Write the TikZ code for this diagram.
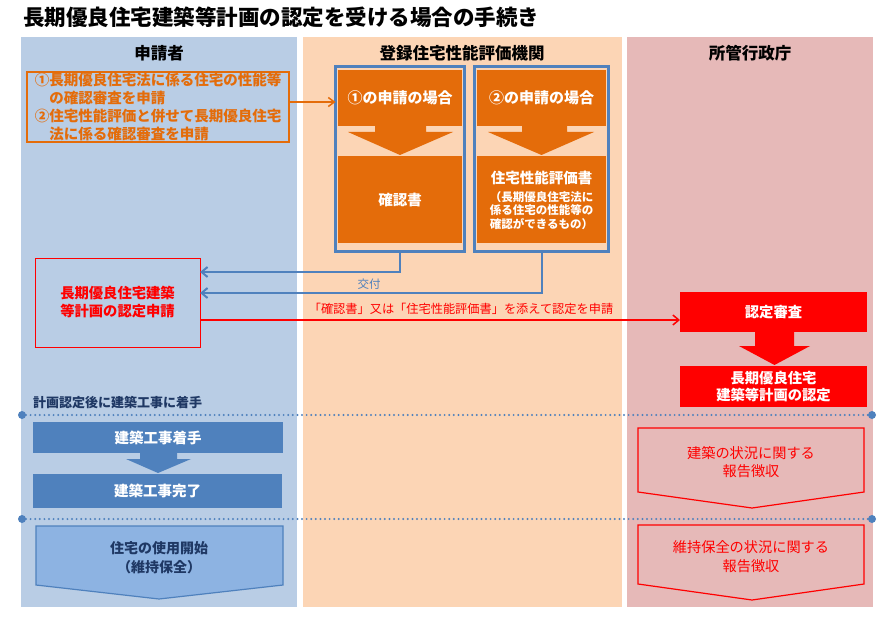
\documentclass[tikz,border=0pt]{standalone}
\usepackage{fontspec}
\setmainfont{Noto Sans CJK JP}
\usetikzlibrary{arrows.meta}
\definecolor{colL}{HTML}{B9CDE5}
\definecolor{colM}{HTML}{FCD5B5}
\definecolor{colR}{HTML}{E6B9B8}
\definecolor{cOr}{HTML}{E46C0A}
\definecolor{cBl}{HTML}{4F81BD}
\definecolor{cLB}{HTML}{8DB3E2}
\definecolor{cNavy}{HTML}{1F3864}
\newcommand{\fsz}[2]{\fontsize{#1}{#2}\selectfont}
\begin{document}
\begin{tikzpicture}[x=1pt,y=-1pt,
  every node/.style={inner sep=0pt,outer sep=0pt},
  hdr/.style={font=\fsz{16.5}{20}\bfseries},
  wtxt/.style={text=white,font=\fsz{14.5}{17}\bfseries,align=center},
  obox/.style={fill=cOr},
  bframe/.style={draw=cBl,line width=3pt},
  barrow/.style={draw=cBl,line width=2pt,-{Straight Barb[length=6pt,width=10pt]}},
  rarrow/.style={draw=red,line width=1.5pt,-{Straight Barb[length=6pt,width=10pt]}},
  oarrow/.style={draw=cOr,line width=1.5pt,-{Straight Barb[length=6pt,width=9pt]}},
  endpt/.style={circle,fill=cBl,minimum size=8pt},
  dotline/.style={draw=cBl,line width=2.2pt,line cap=round,dash pattern=on 0pt off 4.6pt},
  pent/.style={line width=1.2pt}
]
\useasboundingbox (0,0) rectangle (893,620);
% lanes
\fill[colL] (21,37) rectangle (297,607);
\fill[colM] (303,37) rectangle (622,607);
\fill[colR] (627,37) rectangle (873,607);
% title and headers
\node[anchor=west,font=\fsz{21.5}{24}\bfseries] (title) at (23,17) {長期優良住宅建築等計画の認定を受ける場合の手続き};
\node[hdr] (h1) at (159,53) {申請者};
\node[hdr] (h2) at (462,53) {登録住宅性能評価機関};
\node[hdr] (h3) at (750,53) {所管行政庁};
% request box
\node[draw=cOr,line width=1.2pt,minimum width=262,minimum height=70,text=cOr,
  font=\fsz{14.5}{18}\bfseries,align=left] (req) at (158,107)
  {①長期優良住宅法に係る住宅の性能等\\\hspace*{1em}の確認審査を申請\\②住宅性能評価と併せて長期優良住宅\\\hspace*{1em}法に係る確認審査を申請};
% case 1
\node[obox,minimum width=124,minimum height=56,wtxt,font=\fsz{15}{17}\bfseries] (c1top) at (400,98) {①の申請の場合};
\fill[cOr] (375,125) -- (426,125) -- (426,132) -- (453,132) -- (400,155) -- (348,132) -- (375,132) -- cycle;
\node[obox,minimum width=124,minimum height=87,wtxt] (c1bot) at (400,199.5) {確認書};
\node[bframe,minimum width=129,minimum height=185] (f1) at (400,159) {};
% case 2
\node[obox,minimum width=129,minimum height=56,wtxt,font=\fsz{15}{17}\bfseries] (c2top) at (541.5,98) {②の申請の場合};
\fill[cOr] (522,125) -- (567,125) -- (567,132) -- (594,132) -- (541.5,155) -- (488,132) -- (522,132) -- cycle;
\node[obox,minimum width=129,minimum height=87] (c2bot) at (541.5,199.5) {};
\node[wtxt] (c2t1) at (541.5,178) {住宅性能評価書};
\node[wtxt,font=\fsz{11.5}{13.5}\bfseries] (c2t2) at (541.5,210.5) {（長期優良住宅法に\\係る住宅の性能等の\\確認ができるもの）};
\node[bframe,minimum width=134,minimum height=185] (f2) at (541.5,159) {};
% orange connector
\coordinate (os) at ([yshift=5pt]req.east);
\draw[oarrow] (os) -- (os -| f1.west);
% application box
\node[draw=red,line width=1pt,minimum width=165,minimum height=89,text=red,
  font=\fsz{14.3}{18}\bfseries,align=center] (apply) at (117.5,302.5) {長期優良住宅建築\\等計画の認定申請};
\draw[barrow] (f1.south) |- ([yshift=30.5pt]apply.east);
\draw[barrow] (f2.south) |- ([yshift=9.5pt]apply.east);
\node[text=cBl,font=\fsz{11.5}{14}] (kofu) at (369,284) {交付};
% red flow
\node[fill=red,minimum width=187,minimum height=40,text=white,font=\fsz{14.3}{17}\bfseries] (shinsa) at (773.5,312) {認定審査};
\coordinate (rs) at ([yshift=-17.5pt]apply.east);
\draw[rarrow] (rs) -- (rs -| shinsa.west);
\node[text=red,font=\fsz{12.2}{14}] (lbl) at (461,309) {「確認書」又は「住宅性能評価書」を添えて認定を申請};
\fill[red] (755,331) -- (794,331) -- (794,346) -- (810,346) -- (774.5,365) -- (739,346) -- (755,346) -- cycle;
\node[fill=red,minimum width=187,minimum height=41,text=white,font=\fsz{14.3}{17}\bfseries,align=center] (nintei) at (773.5,386.5) {長期優良住宅\\建築等計画の認定};
% construction
\node[anchor=west,font=\fsz{13}{16}\bfseries,text=cNavy] (start) at (33,403) {計画認定後に建築工事に着手};
\node[endpt] (d1l) at (22,415) {};
\node[endpt] (d1r) at (872,415) {};
\draw[dotline] (d1l) -- (d1r);
\node[fill=cBl,minimum width=250,minimum height=31,wtxt] (kou1) at (158,437.5) {建築工事着手};
\fill[cBl] (140,452) -- (177,452) -- (177,459) -- (191,459) -- (158,473) -- (126,459) -- (140,459) -- cycle;
\node[fill=cBl,minimum width=249,minimum height=34,wtxt] (kou2) at (157.5,491) {建築工事完了};
\node[endpt] (d2l) at (22,519) {};
\node[endpt] (d2r) at (872,519) {};
\draw[dotline] (d2l) -- (d2r);
% use pentagon
\filldraw[fill=cLB,draw=cBl,pent] (36,526) -- (283,526) -- (283,585) -- (159,599) -- (36,585) -- cycle;
\node[text=cNavy,font=\fsz{14}{19}\bfseries,align=center] (use) at (159,557.5) {住宅の使用開始\\（維持保全）};
% report pentagons
\draw[red,pent] (638,428) -- (864,428) -- (864,492) -- (752,508) -- (638,492) -- cycle;
\node[text=red,font=\fsz{14.2}{18},align=center] (rep1) at (751,462) {建築の状況に関する\\報告徴収};
\draw[red,pent] (638,525) -- (864,525) -- (864,584) -- (752,600) -- (638,584) -- cycle;
\node[text=red,font=\fsz{14.2}{19},align=center] (rep2) at (751,556.5) {維持保全の状況に関する\\報告徴収};
\end{tikzpicture}
\end{document}
